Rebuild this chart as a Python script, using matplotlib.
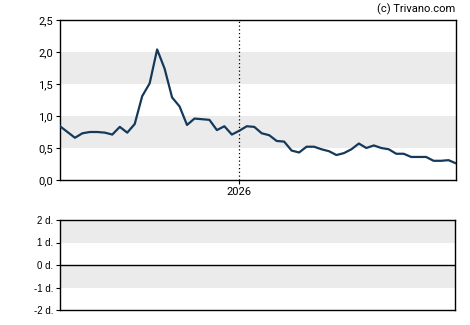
import matplotlib
matplotlib.use('Agg')
import matplotlib.pyplot as plt
import numpy as np

plt.rcParams['font.family'] = ['Roboto', 'DejaVu Sans']

# weekly values
dates = np.arange(np.datetime64('2025-07-17'), np.datetime64('2025-07-17') + np.timedelta64(54 * 7, 'D'),
                  np.timedelta64(7, 'D'))
values = [0.84, 0.75, 0.66, 0.73, 0.75, 0.75, 0.74, 0.71, 0.83, 0.74,
          0.875, 1.31, 1.51, 2.04, 1.74, 1.29, 1.15, 0.86, 0.96, 0.95,
          0.94, 0.78, 0.84, 0.71, 0.77, 0.84, 0.83, 0.73, 0.70, 0.61,
          0.60, 0.46, 0.43, 0.52, 0.52, 0.48, 0.45, 0.39, 0.42, 0.48,
          0.57, 0.50, 0.54, 0.50, 0.48, 0.41, 0.41, 0.36, 0.36, 0.36,
          0.30, 0.30, 0.31, 0.26]
year_mark = np.datetime64('2026-01-01')

main_ticks = [0.0, 0.5, 1.0, 1.5, 2.0, 2.5]
main_labels = ['0,0', '0,5', '1,0', '1,5', '2,0', '2,5']
lower_ticks = [-2, -1, 0, 1, 2]
lower_labels = ['-2 d.', '-1 d.', '0 d.', '1 d.', '2 d.']

W, H = 470, 325
fig = plt.figure(figsize=(W / 100, H / 100), dpi=100)
ax = fig.add_axes([60 / W, 1 - 180 / H, 396 / W, 160 / H])
ax2 = fig.add_axes([60 / W, 1 - 310 / H, 395 / W, 90 / H])

band = '#ebebeb'
for lo in (0.5, 1.5):
    ax.axhspan(lo, lo + 0.5, color=band, lw=0, zorder=0)
ax.plot(dates, values, color='#15395a', lw=1.6, zorder=3)
ax.axvline(year_mark, color='black', lw=0.9, ls=(0, (1, 2)), zorder=2)
ax.set_xlim(dates[0], dates[-1])
ax.set_ylim(0, 2.5)
ax.set_yticks(main_ticks)
ax.set_yticklabels(main_labels)
ax.set_xticks([year_mark])
ax.set_xticklabels(['2026'])
ax.tick_params(length=3, width=0.8, labelsize=8, pad=2, colors='black')
for s in ax.spines.values():
    s.set_linewidth(1.0)

for lo in (1, -1):
    ax2.axhspan(lo, lo + 1, color=band, lw=0, zorder=0)
ax2.axhline(0, color='black', lw=1.0)
ax2.set_ylim(-2, 2)
ax2.set_xlim(0, 1)
ax2.set_yticks(lower_ticks)
ax2.set_yticklabels(lower_labels, family=['Liberation Sans', 'DejaVu Sans'])
ax2.set_xticks([])
ax2.tick_params(length=3, width=0.8, labelsize=7, pad=2)
for s in ax2.spines.values():
    s.set_linewidth(1.0)

fig.text(455 / W, 1 - 9 / H, '(c) Trivano.com', ha='right', va='center', fontsize=8)

fig.savefig('out.png', dpi=100)
